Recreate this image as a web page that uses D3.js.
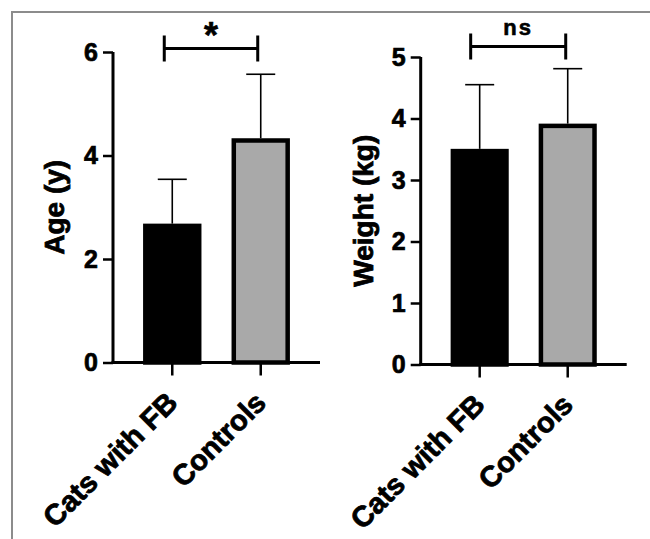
<!DOCTYPE html>
<html>
<head>
<meta charset="utf-8">
<script src="https://cdn.jsdelivr.net/npm/d3@7"></script>
<style>
  html, body { margin: 0; padding: 0; background: #fff; }
  text { font-family: "Liberation Sans", Arial, sans-serif; font-weight: bold; fill: #000; }
</style>
</head>
<body>
<svg id="chart" width="650" height="539"></svg>
<script>
// ---- data ----
const categories = ["Cats with FB", "Controls"];
const ageMean = [2.64, 4.29];
const ageSD = [0.90, 1.28];
const weightMean = [3.47, 3.88];
const weightSD = [1.08, 0.93];
const ageTicks = [0, 2, 4, 6];
const weightTicks = [0, 1, 2, 3, 4, 5];
const barColors = ["#000000", "#a9a9a9"];
const panelInfo = [
  { label: "Age (y)", means: ageMean, sds: ageSD, ticks: ageTicks, max: 6, sig: "*" },
  { label: "Weight (kg)", means: weightMean, sds: weightSD, ticks: weightTicks, max: 5, sig: "ns" }
];

const svg = d3.select("#chart");

// frame
svg.append("rect")
  .attr("x", 12).attr("y", 12).attr("width", 700).attr("height", 600)
  .attr("fill", "none").attr("stroke", "#8c8c8c").attr("stroke-width", 2);

const layout = [
  { x0: 113, x1: 320, yBottom: 362.5, yTop: 52, labelX: 64, sigY: 48.5, sigOff: [-8, -3], sigTextY: 48, sigSize: 36 },
  { x0: 420.7, x1: 626.7, yBottom: 364.5, yTop: 57, labelX: 373, sigY: 46.5, sigOff: [-9, -2], sigTextY: 35, sigSize: 22 }
];

panelInfo.forEach((p, i) => {
  const L = layout[i];
  const g = svg.append("g");
  const x = d3.scaleBand().domain(categories).range([L.x0, L.x1]).padding(0.34);
  const y = d3.scaleLinear().domain([0, p.max]).range([L.yBottom, L.yTop]);

  // bars
  const sw = 4.5;
  g.selectAll("rect.bar").data(categories).join("rect")
    .attr("class", "bar")
    .attr("x", d => x(d) + sw / 2)
    .attr("width", x.bandwidth() - sw)
    .attr("y", (d, j) => y(p.means[j]))
    .attr("height", (d, j) => y(0) - y(p.means[j]))
    .attr("fill", (d, j) => barColors[j])
    .attr("stroke", "#000").attr("stroke-width", sw);

  // error bars
  categories.forEach((c, j) => {
    const cx = x(c) + x.bandwidth() / 2;
    const top = y(p.means[j] + p.sds[j]);
    g.append("line").attr("x1", cx).attr("x2", cx)
      .attr("y1", y(p.means[j]) - sw / 2).attr("y2", top)
      .attr("stroke", "#000").attr("stroke-width", 1.6);
    g.append("line").attr("x1", cx - 14.5).attr("x2", cx + 14.5)
      .attr("y1", top).attr("y2", top)
      .attr("stroke", "#000").attr("stroke-width", 1.6);
  });

  // y axis
  const yAxis = d3.axisLeft(y).tickValues(p.ticks).tickFormat(d3.format("d"))
    .tickSize(10).tickSizeOuter(0).tickPadding(5);
  const ya = g.append("g").attr("transform", `translate(${L.x0},0)`).call(yAxis);
  ya.attr("font-size", null).attr("font-family", null);
  ya.select(".domain").attr("stroke-width", 3).attr("d", `M0,${y(p.max)}V${y(0) + 1.5}`);
  ya.selectAll(".tick line").attr("stroke-width", 2.5);
  ya.selectAll(".tick text").style("font-size", "25px").attr("stroke", "#000").attr("stroke-width", 0.7);

  // x axis
  const xAxis = d3.axisBottom(x).tickSize(13).tickSizeOuter(0).tickFormat("");
  const xa = g.append("g").attr("transform", `translate(0,${L.yBottom})`).call(xAxis);
  xa.select(".domain").attr("stroke-width", 3).attr("d", `M${-1.5 + L.x0},0H${L.x1}`);
  xa.selectAll(".tick line").attr("stroke-width", 2.5);

  // rotated category labels
  g.selectAll("text.cat").data(categories).join("text")
    .attr("class", "cat")
    .attr("text-anchor", "end")
    .style("font-size", "29px")
    .attr("stroke", "#000").attr("stroke-width", 0.8)
    .attr("transform", d => `translate(${x(d) + x.bandwidth() / 2 + 7},${L.yBottom + 42}) rotate(-45)`)
    .text(d => d);

  // y label
  g.append("text")
    .attr("text-anchor", "middle")
    .style("font-size", "28px")
    .attr("stroke", "#000").attr("stroke-width", 0.8)
    .attr("transform", `translate(${L.labelX},${(y(0) + y(p.max)) / 2}) rotate(-90)`)
    .text(p.label);

  // significance bracket
  const bx1 = x(categories[0]) + x.bandwidth() / 2 + L.sigOff[0];
  const bx2 = x(categories[1]) + x.bandwidth() / 2 + L.sigOff[1];
  g.append("path")
    .attr("d", `M${bx1},${L.sigY - 13}V${L.sigY + 13}M${bx1},${L.sigY}H${bx2}M${bx2},${L.sigY - 13}V${L.sigY + 13}`)
    .attr("fill", "none").attr("stroke", "#000").attr("stroke-width", 3);
  g.append("text")
    .attr("x", (bx1 + bx2) / 2).attr("y", L.sigTextY)
    .attr("text-anchor", "middle")
    .style("font-size", L.sigSize + "px")
    .attr("stroke", "#000").attr("stroke-width", 0.6)
    .attr("letter-spacing", p.sig === "ns" ? 2 : 0)
    .text(p.sig);
});
</script>
</body>
</html>
